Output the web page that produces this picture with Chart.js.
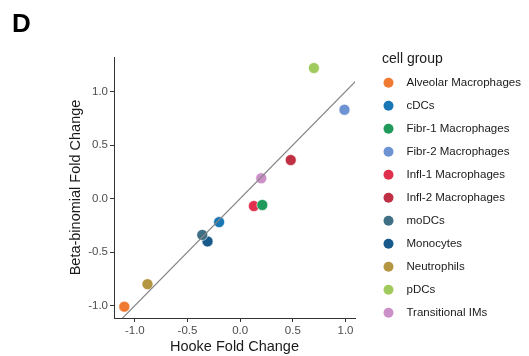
<!DOCTYPE html>
<html>
<head>
<meta charset="utf-8">
<script src="https://cdn.jsdelivr.net/npm/chart.js@4"></script>
<style>
html,body{margin:0;padding:0;background:#fff;}
#wrap{position:relative;width:529px;height:356px;}
</style>
</head>
<body>
<div id="wrap"><canvas id="c" width="529" height="356"></canvas></div>
<script>
const groups = ["Alveolar Macrophages","cDCs","Fibr-1 Macrophages","Fibr-2 Macrophages","Infl-1 Macrophages","Infl-2 Macrophages","moDCs","Monocytes","Neutrophils","pDCs","Transitional IMs"];
const hookeFC = [-1.10,-0.20,0.21,0.99,0.13,0.48,-0.36,-0.31,-0.88,0.70,0.20];
const betaFC  = [-1.01,-0.22,-0.06,0.83,-0.07,0.36,-0.34,-0.40,-0.80,1.22,0.19];
const colors = ["#F07A32","#1A77B5","#1F9A5A","#6D93D3","#E0304D","#BF3045","#3F7086","#17598A","#B49542","#A0CB5C","#CC90C8"];
const xTicks = [-1.0,-0.5,0.0,0.5,1.0];
const yTicks = [-1.0,-0.5,0.0,0.5,1.0];
const refLineX = [-1.3,1.2];

const FONT = "'Liberation Sans', Arial, sans-serif";

const datasets = groups.map((g,i)=>({
  type:'scatter',
  label:g,
  data:[{x:hookeFC[i],y:betaFC[i]}],
  backgroundColor:colors[i],
  borderColor:'#ffffff',
  borderWidth:0.6,
  pointRadius:5.5,
  pointHoverRadius:5.5
}));
datasets.unshift({
  type:'line',
  label:'identity',
  data:refLineX.map(v=>({x:v,y:v})),
  borderColor:'#858585',
  borderWidth:1.2,
  pointRadius:0,
  fill:false
});

const extras = {
  id:'extras',
  afterDraw(chart){
    const ctx = chart.ctx;
    ctx.save();
    ctx.fillStyle = '#000';
    ctx.font = "bold 26px " + FONT;
    ctx.textBaseline = 'alphabetic';
    ctx.textAlign = 'left';
    ctx.fillText('D', 12, 32);
    ctx.font = "14px " + FONT;
    ctx.fillStyle = '#1a1a1a';
    ctx.textBaseline = 'middle';
    ctx.fillText('cell group', 382, 59);
    ctx.font = "11.5px " + FONT;
    groups.forEach((g,i)=>{
      const y = 82.7 + i*23;
      ctx.beginPath();
      ctx.arc(388.5, y, 5, 0, Math.PI*2);
      ctx.fillStyle = colors[i];
      ctx.fill();
      ctx.fillStyle = '#1a1a1a';
      ctx.fillText(g, 406.5, y+0.5);
    });
    ctx.restore();
  }
};

new Chart(document.getElementById('c'), {
  data:{datasets},
  options:{
    responsive:false,
    animation:false,
    devicePixelRatio:1,
    layout:{padding:{left:67,top:57,right:174,bottom:0}},
    plugins:{legend:{display:false},tooltip:{enabled:false}},
    scales:{
      x:{
        type:'linear',
        min:-1.198,max:1.09,
        afterBuildTicks(s){ s.ticks = xTicks.map(v=>({value:v})); },
        afterFit(s){ s.height = 38; },
        grid:{display:true,drawOnChartArea:false,drawTicks:true,tickLength:4,color:'#333333',tickWidth:1},
        border:{display:true,color:'#333333',width:1},
        ticks:{color:'#4d4d4d',font:{family:FONT,size:11.5},padding:2,maxRotation:0,callback:v=>v.toFixed(1)},
        title:{display:true,text:'Hooke Fold Change',color:'#1a1a1a',font:{family:FONT,size:14.5},padding:{top:1,bottom:0}}
      },
      y:{
        type:'linear',
        min:-1.116,max:1.323,
        afterBuildTicks(s){ s.ticks = yTicks.map(v=>({value:v})); },
        afterFit(s){ s.width = 47; },
        grid:{display:true,drawOnChartArea:false,drawTicks:true,tickLength:4,color:'#333333',tickWidth:1},
        border:{display:true,color:'#333333',width:1},
        ticks:{color:'#4d4d4d',font:{family:FONT,size:11.5},padding:2,callback:v=>v.toFixed(1)},
        title:{display:true,text:'Beta-binomial Fold Change',color:'#1a1a1a',font:{family:FONT,size:14.5},padding:{top:0,bottom:0}}
      }
    }
  },
  plugins:[extras]
});
</script>
</body>
</html>
